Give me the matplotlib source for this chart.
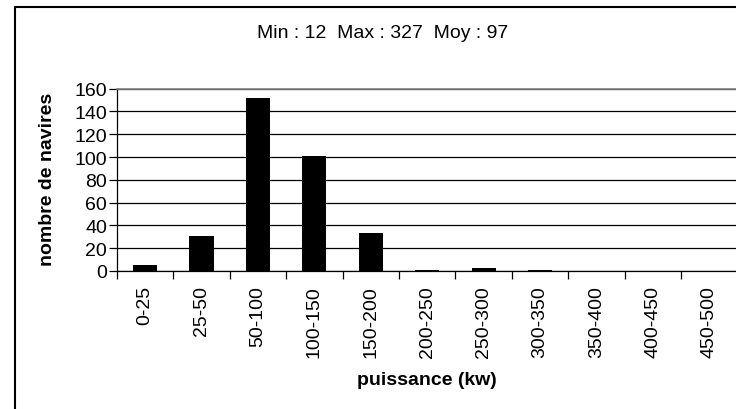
import numpy as np
import matplotlib
matplotlib.use("Agg")
import matplotlib.pyplot as plt
from matplotlib.patches import Rectangle

plt.rcParams['font.family'] = ['Liberation Sans', 'DejaVu Sans']

# classes de puissance et nombre de navires
classes = ['0-25', '25-50', '50-100', '100-150', '150-200', '200-250',
           '250-300', '300-350', '350-400', '400-450', '450-500']
navires = [5, 31, 152, 101, 33, 1, 3, 1, 0, 0, 0]
titre = 'Min : 12  Max : 327  Moy : 97'

W, H = 736, 410
fig = plt.figure(figsize=(W / 100, H / 100), dpi=100)

# cadre du graphique (coupe a droite et en bas)
fig.patches.append(Rectangle((15 / W, -0.05), 1.1, 1 - 8 / H + 0.05,
                             transform=fig.transFigure, fill=False,
                             edgecolor='black', linewidth=1.5))

left, right = 116.8 / W, 737.7 / W
bottom, top = 1 - 272 / H, 1 - 89.7 / H
ax = fig.add_axes([left, bottom, right - left, top - bottom])

x = np.arange(len(classes))
ax.bar(x, navires, width=0.43, color='black', zorder=3)

ax.set_xlim(-0.5, len(classes) - 0.5)
ax.set_ylim(0, 160)
ax.set_yticks(np.arange(0, 161, 20))
ax.yaxis.grid(True, color='black', linewidth=0.9, zorder=0)
ax.tick_params(axis='y', direction='out', length=6, width=0.9,
               labelsize=14, pad=1)

ax.set_xticks(x)
ax.set_xticklabels(classes, rotation=90, fontsize=14)
ax.set_xticks(np.arange(-0.5, len(classes)), minor=True)
ax.tick_params(axis='x', which='major', length=0, pad=10)
ax.tick_params(axis='x', which='minor', direction='out', length=6, width=0.9)

for s in ['left', 'bottom']:
    ax.spines[s].set_color('black')
    ax.spines[s].set_linewidth(0.9)
ax.spines['top'].set_color('#808080')
ax.spines['top'].set_linewidth(1.2)
ax.spines['right'].set_visible(False)

fig.text(48 / W, 1 - 179 / H, 'nombre de navires', rotation=90,
         fontsize=14, fontweight='bold', ha='center', va='center')
fig.text(427 / W, 1 - 381 / H, 'puissance (kw)', fontsize=14,
         fontweight='bold', ha='center', va='center')
fig.text(383 / W, 1 - 33 / H, titre, fontsize=14, ha='center', va='center')

fig.savefig('out.png', dpi=100)
